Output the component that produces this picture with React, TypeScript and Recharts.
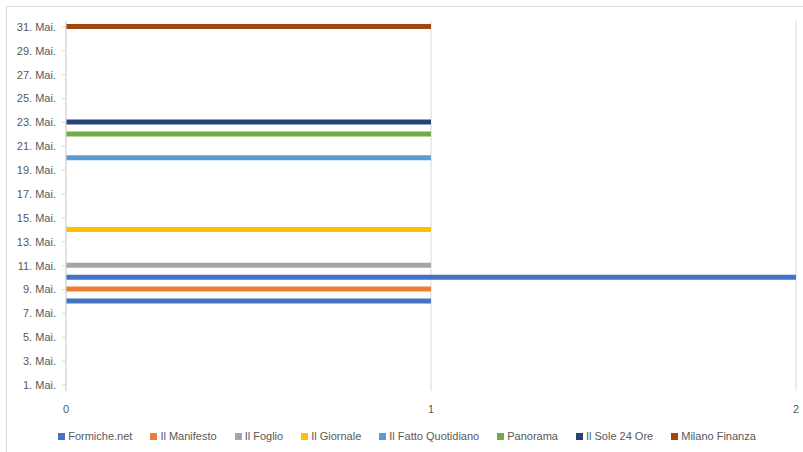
import React from 'react';
import {
    BarChart,
    Bar,
    XAxis,
    YAxis,
    CartesianGrid,
    Legend,
} from 'recharts';

// days of May shown on the category axis
const days = [
    1, 2, 3, 4, 5, 6, 7, 8, 9, 10, 11, 12, 13, 14, 15, 16,
    17, 18, 19, 20, 21, 22, 23, 24, 25, 26, 27, 28, 29, 30, 31,
];

const seriesNames = [
    'Formiche.net',
    'Il Manifesto',
    'Il Foglio',
    'Il Giornale',
    'Il Fatto Quotidiano',
    'Panorama',
    'Il Sole 24 Ore',
    'Milano Finanza',
];

const seriesColors = [
    '#4472C4',
    '#ED7D31',
    '#A5A5A5',
    '#FFC000',
    '#5B9BD5',
    '#70AD47',
    '#264478',
    '#9E480E',
];

// [day, count] per series
const formiche = [[8, 1], [10, 2]];
const manifesto = [[9, 1]];
const foglio = [[11, 1]];
const giornale = [[14, 1]];
const fatto = [[20, 1]];
const panorama = [[22, 1]];
const sole = [[23, 1]];
const milano = [[31, 1]];

const seriesValues = [formiche, manifesto, foglio, giornale, fatto, panorama, sole, milano];

const xTicks = [0, 1, 2];

const data = days.map((d) => {
    const row: Record<string, any> = { label: `${d}. Mai.` };
    seriesNames.forEach((name, i) => {
        const hit = seriesValues[i].find((p) => p[0] === d);
        row[name] = hit ? hit[1] : 0;
    });
    return row;
});

const FONT = '"Liberation Sans", Arial, sans-serif';
const TEXT = '#595959';

// legend drawn in series order (recharts sorts its payload by name)
const LegendContent = () => (
    <div
        style={{
            display: 'flex',
            justifyContent: 'center',
            gap: 18,
            fontFamily: FONT,
            fontSize: 11,
            color: TEXT,
            whiteSpace: 'nowrap',
            paddingLeft: 18,
        }}
    >
        {seriesNames.map((name, i) => (
            <span key={name} style={{ display: 'flex', alignItems: 'center' }}>
                <span
                    style={{
                        width: 7,
                        height: 7,
                        background: seriesColors[i],
                        marginRight: 3,
                        display: 'inline-block',
                    }}
                />
                {name}
            </span>
        ))}
    </div>
);

export default function App() {
    return (
        <div style={{ position: 'absolute', left: 0, top: 0, width: 803, height: 452, overflow: 'hidden', background: '#fff' }}>
            <div
                style={{
                    position: 'absolute',
                    left: 6,
                    top: 6,
                    width: 800,
                    height: 450,
                    border: '1px solid #d9d9d9',
                }}
            />
            <BarChart
                width={803}
                height={452}
                data={data}
                layout="vertical"
                margin={{ top: 21, right: 7, bottom: 2, left: 0 }}
                barCategoryGap={0}
            >
                <CartesianGrid horizontal={false} stroke="#d9d9d9" />
                <XAxis
                    type="number"
                    domain={[0, 2]}
                    ticks={xTicks}
                    axisLine={false}
                    tickLine={false}
                    tickMargin={8}
                    height={39}
                    tick={{ fontSize: 11, fill: TEXT, fontFamily: FONT }}
                />
                <YAxis
                    type="category"
                    dataKey="label"
                    reversed
                    width={66}
                    interval={1}
                    stroke="#d9d9d9"
                    tickSize={4}
                    tickMargin={6}
                    tick={{ fontSize: 11, fill: TEXT, fontFamily: FONT }}
                />
                <Legend verticalAlign="bottom" height={20} content={<LegendContent />} />
                {seriesNames.map((name, i) => (
                    <Bar
                        key={name}
                        dataKey={name}
                        stackId="all"
                        fill={seriesColors[i]}
                        barSize={5}
                        isAnimationActive={false}
                    />
                ))}
            </BarChart>
        </div>
    );
}
